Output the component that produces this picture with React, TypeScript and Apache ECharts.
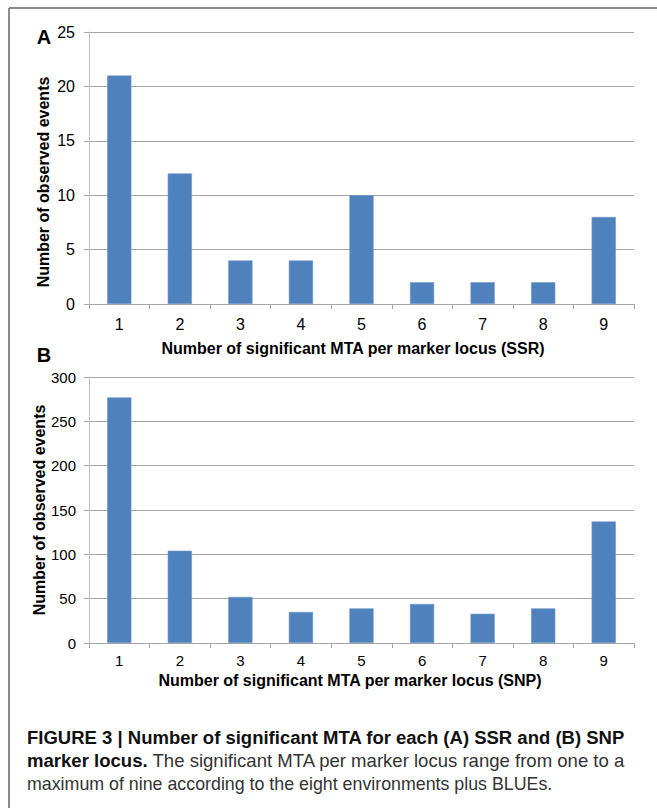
import React, { useEffect, useRef } from "react";
import * as echarts from "echarts";

const categories = ["1", "2", "3", "4", "5", "6", "7", "8", "9"];
const ssrValues = [21, 12, 4, 4, 10, 2, 2, 2, 8];
const snpValues = [277, 104, 52, 35, 39, 44, 33, 39, 137];
const yTitle = "Number of observed events";
const xTitleA = "Number of significant MTA per marker locus (SSR)";
const xTitleB = "Number of significant MTA per marker locus (SNP)";
const captionLine1 = "FIGURE 3 | Number of significant MTA for each (A) SSR and (B) SNP";
const captionLine2Bold = "marker locus.";
const captionLine2 = " The significant MTA per marker locus range from one to a";
const captionLine3 = "maximum of nine according to the eight environments plus BLUEs.";

const FONT = "'Liberation Sans', Arial, Helvetica, sans-serif";
const CAPFONT = "'Liberation Sans', Arial, sans-serif";
const BAR = "#4f81bd";

export default function App() {
  const ref = useRef<HTMLDivElement>(null);
  useEffect(() => {
    if (!ref.current) return;
    const chart = echarts.init(ref.current, undefined, { renderer: "svg" });
    const labelA = { fontFamily: FONT, fontSize: 16, color: "#000" };
    const labelB = { fontFamily: FONT, fontSize: 15, color: "#000" };
    const xAxisCommon = {
      type: "category" as const,
      data: categories,
      boundaryGap: true,
      axisLine: { lineStyle: { color: "#a6a6a6", width: 1 } },
      axisTick: { show: true, length: 5, alignWithLabel: false, lineStyle: { color: "#a6a6a6" } },
    };
    const yAxisCommon = {
      type: "value" as const,
      axisLine: { show: true, lineStyle: { color: "#c0c0c0", width: 1 } },
      axisTick: { show: true, length: 5, inside: false, lineStyle: { color: "#a6a6a6" } },
      splitLine: { lineStyle: { color: "#a6a6a6", width: 1 } },
    };
    chart.setOption({
      animation: false,
      grid: [
        { left: 89, width: 545, top: 32, height: 272 },
        { left: 89, width: 545, top: 377, height: 266 },
      ],
      xAxis: [
        { ...xAxisCommon, gridIndex: 0, axisLabel: { ...labelA, margin: 12 } },
        { ...xAxisCommon, gridIndex: 1, axisLabel: { ...labelB, margin: 10 } },
      ],
      yAxis: [
        { ...yAxisCommon, gridIndex: 0, min: 0, max: 25, interval: 5, axisLabel: { ...labelA, margin: 14 } },
        { ...yAxisCommon, gridIndex: 1, min: 0, max: 300, interval: 50, axisLabel: { ...labelB, margin: 13 } },
      ],
      series: [
        {
          type: "bar",
          xAxisIndex: 0,
          yAxisIndex: 0,
          data: ssrValues,
          barWidth: "40%",
          itemStyle: { color: BAR, borderColor: "#6f97c9", borderWidth: 0.6 },
        },
        {
          type: "bar",
          xAxisIndex: 1,
          yAxisIndex: 1,
          data: snpValues,
          barWidth: "40%",
          itemStyle: { color: BAR, borderColor: "#6f97c9", borderWidth: 0.6 },
        },
      ],
      graphic: [
        { type: "line", shape: { x1: 9, y1: 8, x2: 657, y2: 8 }, style: { stroke: "#666", lineWidth: 1.5 } },
        { type: "line", shape: { x1: 9, y1: 8, x2: 9, y2: 808 }, style: { stroke: "#666", lineWidth: 1.5 } },
        {
          type: "text", x: 44, y: 37,
          style: { text: "A", font: `bold 20px ${FONT}`, fill: "#000", align: "center", verticalAlign: "middle" },
        },
        {
          type: "text", x: 44, y: 355,
          style: { text: "B", font: `bold 20px ${FONT}`, fill: "#000", align: "center", verticalAlign: "middle" },
        },
        {
          type: "text", x: 43, y: 182, rotation: Math.PI / 2,
          style: { text: yTitle, font: `bold 16px ${FONT}`, fill: "#000", align: "center", verticalAlign: "middle" },
        },
        {
          type: "text", x: 39, y: 510, rotation: Math.PI / 2,
          style: { text: yTitle, font: `bold 16px ${FONT}`, fill: "#000", align: "center", verticalAlign: "middle" },
        },
        {
          type: "text", x: 353, y: 348,
          style: { text: xTitleA, font: `bold 16px ${FONT}`, fill: "#000", align: "center", verticalAlign: "middle" },
        },
        {
          type: "text", x: 350, y: 680,
          style: { text: xTitleB, font: `bold 16px ${FONT}`, fill: "#000", align: "center", verticalAlign: "middle" },
        },
        {
          type: "text", x: 27, y: 737, scaleX: 0.974,
          style: { text: captionLine1, font: `bold 19px ${CAPFONT}`, fill: "#111", align: "left", verticalAlign: "middle" },
        },
        {
          type: "text", x: 27, y: 760, scaleX: 0.977,
          style: {
            text: `{b|${captionLine2Bold}}{n|${captionLine2}}`,
            align: "left",
            verticalAlign: "middle",
            rich: {
              b: { font: `bold 19px ${CAPFONT}`, fill: "#111" },
              n: { font: `19px ${CAPFONT}`, fill: "#333" },
            },
          },
        },
        {
          type: "text", x: 27, y: 783, scaleX: 0.937,
          style: { text: captionLine3, font: `19px ${CAPFONT}`, fill: "#333", align: "left", verticalAlign: "middle" },
        },
      ],
    });
    return () => chart.dispose();
  }, []);
  return (
    <div
      ref={ref}
      style={{ position: "fixed", left: 0, top: 0, width: 657, height: 808, background: "#fff" }}
    />
  );
}
